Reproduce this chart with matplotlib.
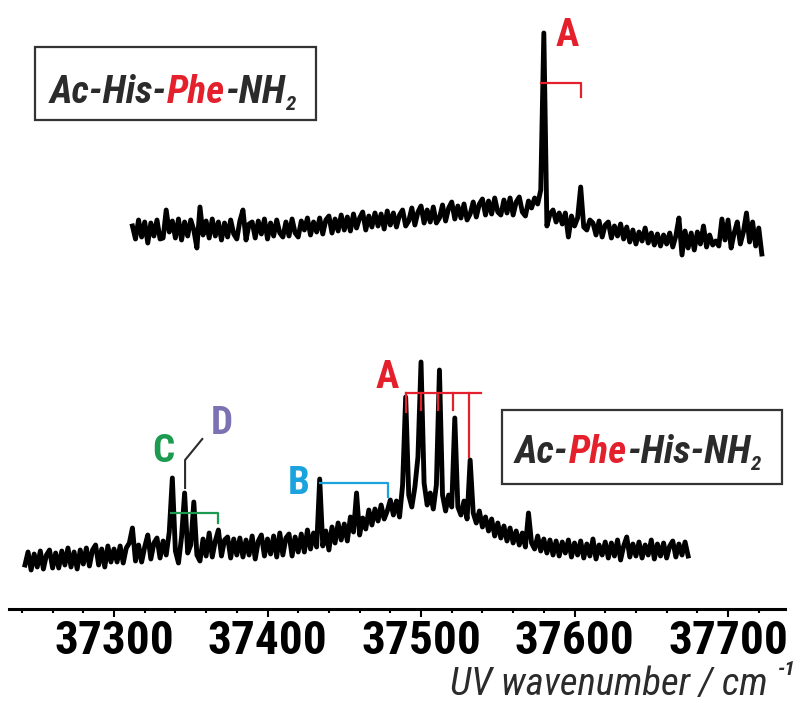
import numpy as np
import matplotlib.pyplot as plt
from matplotlib import font_manager
from matplotlib.ticker import MultipleLocator

# fonts: a narrow Arial-like sans if there is one, plain Arial-like otherwise
names = {f.name for f in font_manager.fontManager.ttflist}
FONT = next((n for n in ['Liberation Sans Narrow', 'Roboto Condensed', 'Liberation Sans']
             if n in names), 'DejaVu Sans')
plt.rcParams['font.family'] = [FONT, 'DejaVu Sans']

# lower trace: Ac-Phe-His-NH2, sampled every 2 cm-1 from 37242 to 37674
wn_lower = np.arange(37242, 37675, 2)
sig_lower = [
    0.00, 0.13, -0.05, 0.11, -0.02, 0.14, -0.04, 0.10, 0.15, -0.03,
    0.12, -0.03, 0.14, 0.00, 0.17, -0.02, 0.13, -0.04, 0.15, 0.01,
    0.17, -0.01, 0.15, 0.20, 0.00, 0.16, -0.02, 0.19, 0.03, 0.16,
    0.03, 0.19, 0.02, 0.17, 0.22, 0.37, 0.04, 0.20, 0.03, 0.18,
    0.30, 0.06, 0.22, 0.27, 0.07, 0.24, 0.10, 0.33, 0.87, 0.14,
    0.02, 0.28, 0.72, 0.12, 0.20, 0.63, 0.10, 0.04, 0.26, 0.09,
    0.32, 0.08, 0.24, 0.35, 0.09, 0.25, 0.28, 0.07, 0.26, 0.10,
    0.27, 0.08, 0.25, 0.10, 0.29, 0.06, 0.24, 0.30, 0.09, 0.26,
    0.11, 0.29, 0.08, 0.32, 0.10, 0.27, 0.31, 0.09, 0.28, 0.13,
    0.31, 0.13, 0.35, 0.16, 0.32, 0.18, 0.86, 0.19, 0.34, 0.15,
    0.38, 0.22, 0.42, 0.25, 0.41, 0.24, 0.48, 0.33, 0.72, 0.30,
    0.47, 0.36, 0.55, 0.40, 0.56, 0.44, 0.60, 0.46, 0.54, 0.65,
    0.50, 0.64, 0.48, 0.80, 1.68, 0.70, 0.58, 0.78, 1.08, 2.03,
    0.82, 0.60, 0.72, 0.56, 0.80, 1.95, 0.70, 0.54, 0.70, 0.58,
    1.47, 0.58, 0.50, 0.64, 0.46, 1.05, 0.52, 0.42, 0.54, 0.38,
    0.48, 0.34, 0.46, 0.29, 0.42, 0.27, 0.39, 0.24, 0.37, 0.22,
    0.34, 0.20, 0.32, 0.18, 0.52, 0.22, 0.16, 0.29, 0.14, 0.26,
    0.12, 0.25, 0.10, 0.24, 0.09, 0.23, 0.12, 0.25, 0.08, 0.22,
    0.10, 0.24, 0.07, 0.21, 0.09, 0.26, 0.06, 0.20, 0.10, 0.23,
    0.07, 0.22, 0.09, 0.25, 0.05, 0.19, 0.28, 0.08, 0.21, 0.09,
    0.23, 0.07, 0.20, 0.10, 0.25, 0.06, 0.21, 0.09, 0.22, 0.07,
    0.19, 0.24, 0.08, 0.21, 0.10, 0.23, 0.09,
]

# upper trace: Ac-His-Phe-NH2, sampled every 2 cm-1 from 37312 to 37722
wn_upper = np.arange(37312, 37723, 2)
sig_upper = [
    0.04, -0.09, 0.10, -0.07, 0.08, -0.13, 0.07, -0.06, 0.10, -0.09,
    -0.08, 0.20, -0.02, 0.09, -0.08, 0.11, -0.10, 0.08, -0.06, 0.10,
    0.00, -0.18, 0.23, -0.05, 0.09, -0.08, 0.11, -0.06, 0.08, -0.10,
    0.07, -0.07, 0.10, -0.04, -0.09, 0.09, 0.20, -0.10, 0.06, 0.08,
    -0.08, 0.09, -0.04, 0.11, -0.09, 0.07, -0.06, 0.10, -0.03, -0.07,
    0.08, -0.06, 0.11, -0.03, -0.07, 0.09, 0.00, 0.12, -0.05, 0.08,
    -0.02, 0.12, -0.04, 0.10, 0.14, -0.03, 0.11, -0.01, 0.15, 0.00,
    0.13, -0.01, 0.16, 0.02, 0.12, 0.18, 0.00, 0.14, 0.03, 0.17,
    0.04, 0.16, 0.01, 0.19, 0.05, 0.17, 0.03, 0.15, 0.20, 0.04,
    0.09, 0.22, 0.05, 0.18, 0.24, 0.07, 0.20, 0.08, 0.23, 0.07,
    0.12, 0.25, 0.09, 0.22, 0.28, 0.11, 0.24, 0.12, 0.26, 0.10,
    0.16, 0.28, 0.13, 0.26, 0.31, 0.15, 0.29, 0.16, 0.32, 0.18,
    0.15, 0.30, 0.17, 0.32, 0.15, 0.28, 0.33, 0.18, 0.14, 0.29,
    0.22, 0.32, 0.26, 0.40, 1.97, 0.04, 0.16, 0.20, 0.08, 0.17,
    0.06, 0.17, -0.07, 0.14, 0.04, 0.12, 0.43, 0.03, 0.00, 0.10,
    0.07, -0.05, 0.09, -0.07, 0.05, 0.08, -0.08, 0.04, -0.06, 0.06,
    -0.09, 0.03, -0.12, 0.00, -0.14, -0.02, -0.11, 0.02, -0.13, -0.03,
    -0.15, -0.04, -0.16, -0.05, -0.14, -0.03, -0.17, -0.06, 0.12, -0.25,
    -0.01, -0.18, -0.03, -0.20, -0.02, -0.14, 0.04, -0.17, -0.05, -0.15,
    -0.11, -0.16, 0.11, -0.10, 0.10, -0.18, -0.03, 0.08, -0.14, -0.02,
    0.17, -0.12, 0.08, -0.16, 0.02, -0.24,
]
upper_offset = 3.35

RED = '#e3202b'
BLUE = '#1ba3dd'
GREEN = '#1c9a50'
PURPLE = '#7b72b4'
DARK = '#2b2b2b'

fig = plt.figure(figsize=(8.02, 7.03), dpi=100)
W, H = 802, 703
ax = fig.add_axes([9 / W, 94 / H, 776 / W, 609 / H])

ax.plot(wn_lower, sig_lower, color='black', lw=3.5, solid_joinstyle='round')
ax.plot(wn_upper, np.array(sig_upper) + upper_offset, color='black', lw=3.5,
        solid_joinstyle='round')

# progression brackets
ax.plot([37578, 37604, 37604], [4.82, 4.82, 4.68], color=RED, lw=1.6)
ax.plot([37490, 37539], [1.72, 1.72], color=RED, lw=1.6)
for x, y in [(37490, 1.53), (37500, 1.55), (37511, 1.55), (37521, 1.55), (37531.5, 1.08)]:
    ax.plot([x, x], [1.72, y], color=RED, lw=1.6)
ax.plot([37434, 37478.5, 37478.5], [0.82, 0.82, 0.68], color=BLUE, lw=1.6)
ax.plot([37337, 37368, 37368], [0.52, 0.52, 0.42], color=GREEN, lw=1.6)
ax.plot([37346.3, 37346.3, 37357.5], [0.77, 1.05, 1.26], color=DARK, lw=1.5)

lab = dict(fontsize=28, fontweight='bold', ha='center', va='center')
ax.text(37595, 5.29, 'A', color=RED, **lab)
ax.text(37478, 1.87, 'A', color=RED, **lab)
ax.text(37332, 1.13, 'C', color=GREEN, **lab)
ax.text(37370.5, 1.42, 'D', color=PURPLE, **lab)
ax.text(37420, 0.82, 'B', color=BLUE, **lab)

ax.set_xlim(37231.6, 37737.1)
ax.set_ylim(-0.44, 5.65)
for s in ['left', 'right', 'top']:
    ax.spines[s].set_visible(False)
ax.spines['bottom'].set_linewidth(2.2)
ax.set_yticks([])
ax.xaxis.set_major_locator(MultipleLocator(100))
ax.xaxis.set_minor_locator(MultipleLocator(20))
ax.tick_params(axis='x', which='major', length=6, width=1.5, pad=1, labelsize=34)
ax.tick_params(axis='x', which='minor', length=3, width=1.5)
for t in ax.get_xticklabels():
    t.set_fontweight('bold')

# axis title with superscript
fig.text(768 / W, (H - 695) / H, 'UV wavenumber / cm', style='italic',
         fontsize=28, color=DARK, ha='right', va='baseline')
fig.text(778 / W, (H - 675) / H, '-1', style='italic', fontweight='bold',
         fontsize=15, color=DARK, ha='left', va='baseline')

# boxed peptide names, written piece by piece so one part can be red
renderer = fig.canvas.get_renderer()


def write_name(x_px, base_px, pieces):
    # drop: how far a piece sits below the baseline, in pixels
    x = x_px
    for txt, col, size, drop in pieces:
        t = fig.text(x / W, (H - base_px - drop) / H, txt, style='italic',
                     fontweight='bold', fontsize=size, color=col, va='baseline')
        x += t.get_window_extent(renderer).width


def box(x0, y0, x1, y1):
    fig.add_artist(plt.Rectangle((x0 / W, (H - y1) / H), (x1 - x0) / W, (y1 - y0) / H,
                                 transform=fig.transFigure, fill=False,
                                 edgecolor='#333333', lw=1.6))


box(35, 47, 316, 120)
write_name(50, 103, [('Ac-His-', DARK, 28, 0), ('Phe', RED, 28, 0),
                     ('-NH', DARK, 28, 0), ('2', DARK, 15, 7)])
box(502, 410, 782, 484)
write_name(515, 463, [('Ac-', DARK, 28, 0), ('Phe', RED, 28, 0),
                      ('-His-NH', DARK, 28, 0), ('2', DARK, 15, 7)])

fig.savefig('out.png', dpi=100)
